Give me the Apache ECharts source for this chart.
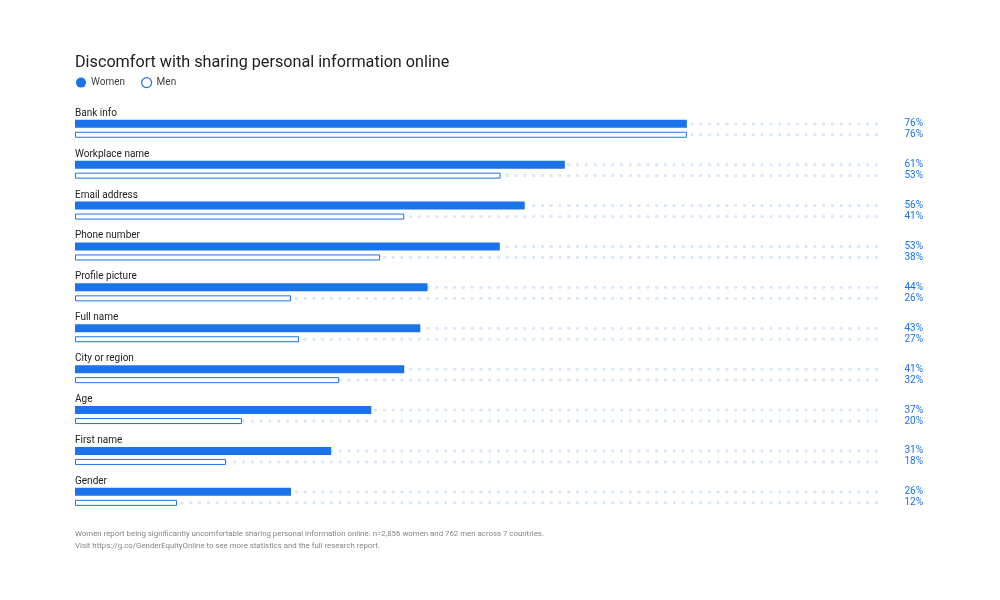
<!DOCTYPE html>
<html>
<head>
<meta charset="utf-8">
<script src="https://cdn.jsdelivr.net/npm/echarts@6/dist/echarts.min.js"></script>
<style>
html,body{margin:0;padding:0;background:#fff;}
#chart{width:1000px;height:600px;}
</style>
</head>
<body>
<div id="chart"></div>
<script>
const categories = ['Bank info','Workplace name','Email address','Phone number','Profile picture','Full name','City or region','Age','First name','Gender'];
const womenValues = [76.2, 61.0, 56.0, 52.9, 43.9, 43.0, 41.0, 36.9, 31.9, 26.9];
const menValues   = [76.2, 53.0, 41.0, 38.0, 26.9, 27.9, 32.9, 20.8, 18.8, 12.7];
const womenLabels = ['76%','61%','56%','53%','44%','43%','41%','37%','31%','26%'];
const menLabels   = ['76%','53%','41%','38%','26%','27%','32%','20%','18%','12%'];
const trackValues = [100,100,100,100,100,100,100,100,100,100];
const footnote = 'Women report being significantly uncomfortable sharing personal information online. n=2,856 women and 762 men across 7 countries.\nVisit https://g.co/GenderEquityOnline to see more statistics and the full research report.';

const BLUE = '#1a73e8';
const DOT = '#d8e5fb';
const FONT = 'Roboto';

const chart = echarts.init(document.getElementById('chart'));
chart.setOption({
  backgroundColor: '#fff',
  animation: false,
  textStyle: { fontFamily: FONT },
  title: {
    text: 'Discomfort with sharing personal information online',
    left: 70, top: 50,
    textStyle: { fontSize: 16.2, fontWeight: 'normal', color: '#202124', fontFamily: FONT }
  },
  legend: {
    data: [
      { name: 'Women' },
      { name: 'Men', itemStyle: { color: '#ffffff', borderColor: BLUE, borderWidth: 1.2 } }
    ],
    left: 71, top: 72,
    icon: 'circle',
    itemWidth: 10, itemHeight: 10,
    itemGap: 16,
    textStyle: { fontSize: 10, color: '#3c4043', fontFamily: FONT }
  },
  graphic: [{
    type: 'text', left: 75, top: 528,
    style: { text: footnote, fontSize: 7.85, lineHeight: 12, fill: '#80868b', fontFamily: FONT }
  }],
  grid: { left: 75, width: 803, top: 108.3, height: 409, containLabel: false },
  xAxis: {
    type: 'value', min: 0, max: 100, show: false
  },
  yAxis: {
    type: 'category', inverse: true, data: categories,
    axisLine: { show: false }, axisTick: { show: false }, splitLine: { show: false },
    axisLabel: {
      inside: true, margin: 0, fontSize: 10, color: '#202124', fontFamily: FONT,
      verticalAlign: 'middle', lineHeight: 31, interval: 0,
      showMinLabel: true, showMaxLabel: true, hideOverlap: false,
      formatter: v => v + '\n '
    }
  },
  series: [
    {
      name: 'Women', type: 'bar', data: womenValues,
      barWidth: 8, barGap: '50%', z: 3,
      itemStyle: { color: BLUE }
    },
    {
      name: 'Men', type: 'bar', data: menValues,
      barWidth: 6, barGap: '50%', z: 3,
      itemStyle: { color: '#ffffff', borderColor: BLUE, borderWidth: 1 }
    },
    {
      name: 'trackWomen', type: 'pictorialBar', data: trackValues,
      barWidth: 8, barGap: '50%', z: 1, silent: true,
      symbol: 'circle', symbolSize: [3.2, 3.2], symbolRepeat: true, symbolMargin: 2.8,
      symbolPosition: 'start',
      itemStyle: { color: DOT },
      label: {
        show: true, position: 'right', distance: 45, align: 'right',
        color: BLUE, fontSize: 10, fontFamily: FONT,
        formatter: p => womenLabels[p.dataIndex]
      }
    },
    {
      name: 'trackMen', type: 'pictorialBar', data: trackValues,
      barWidth: 6, barGap: '50%', z: 1, silent: true,
      symbol: 'circle', symbolSize: [3.2, 3.2], symbolRepeat: true, symbolMargin: 2.8,
      symbolPosition: 'start',
      itemStyle: { color: DOT },
      label: {
        show: true, position: 'right', distance: 45, align: 'right',
        color: BLUE, fontSize: 10, fontFamily: FONT,
        formatter: p => menLabels[p.dataIndex]
      }
    }
  ]
});
</script>
</body>
</html>
